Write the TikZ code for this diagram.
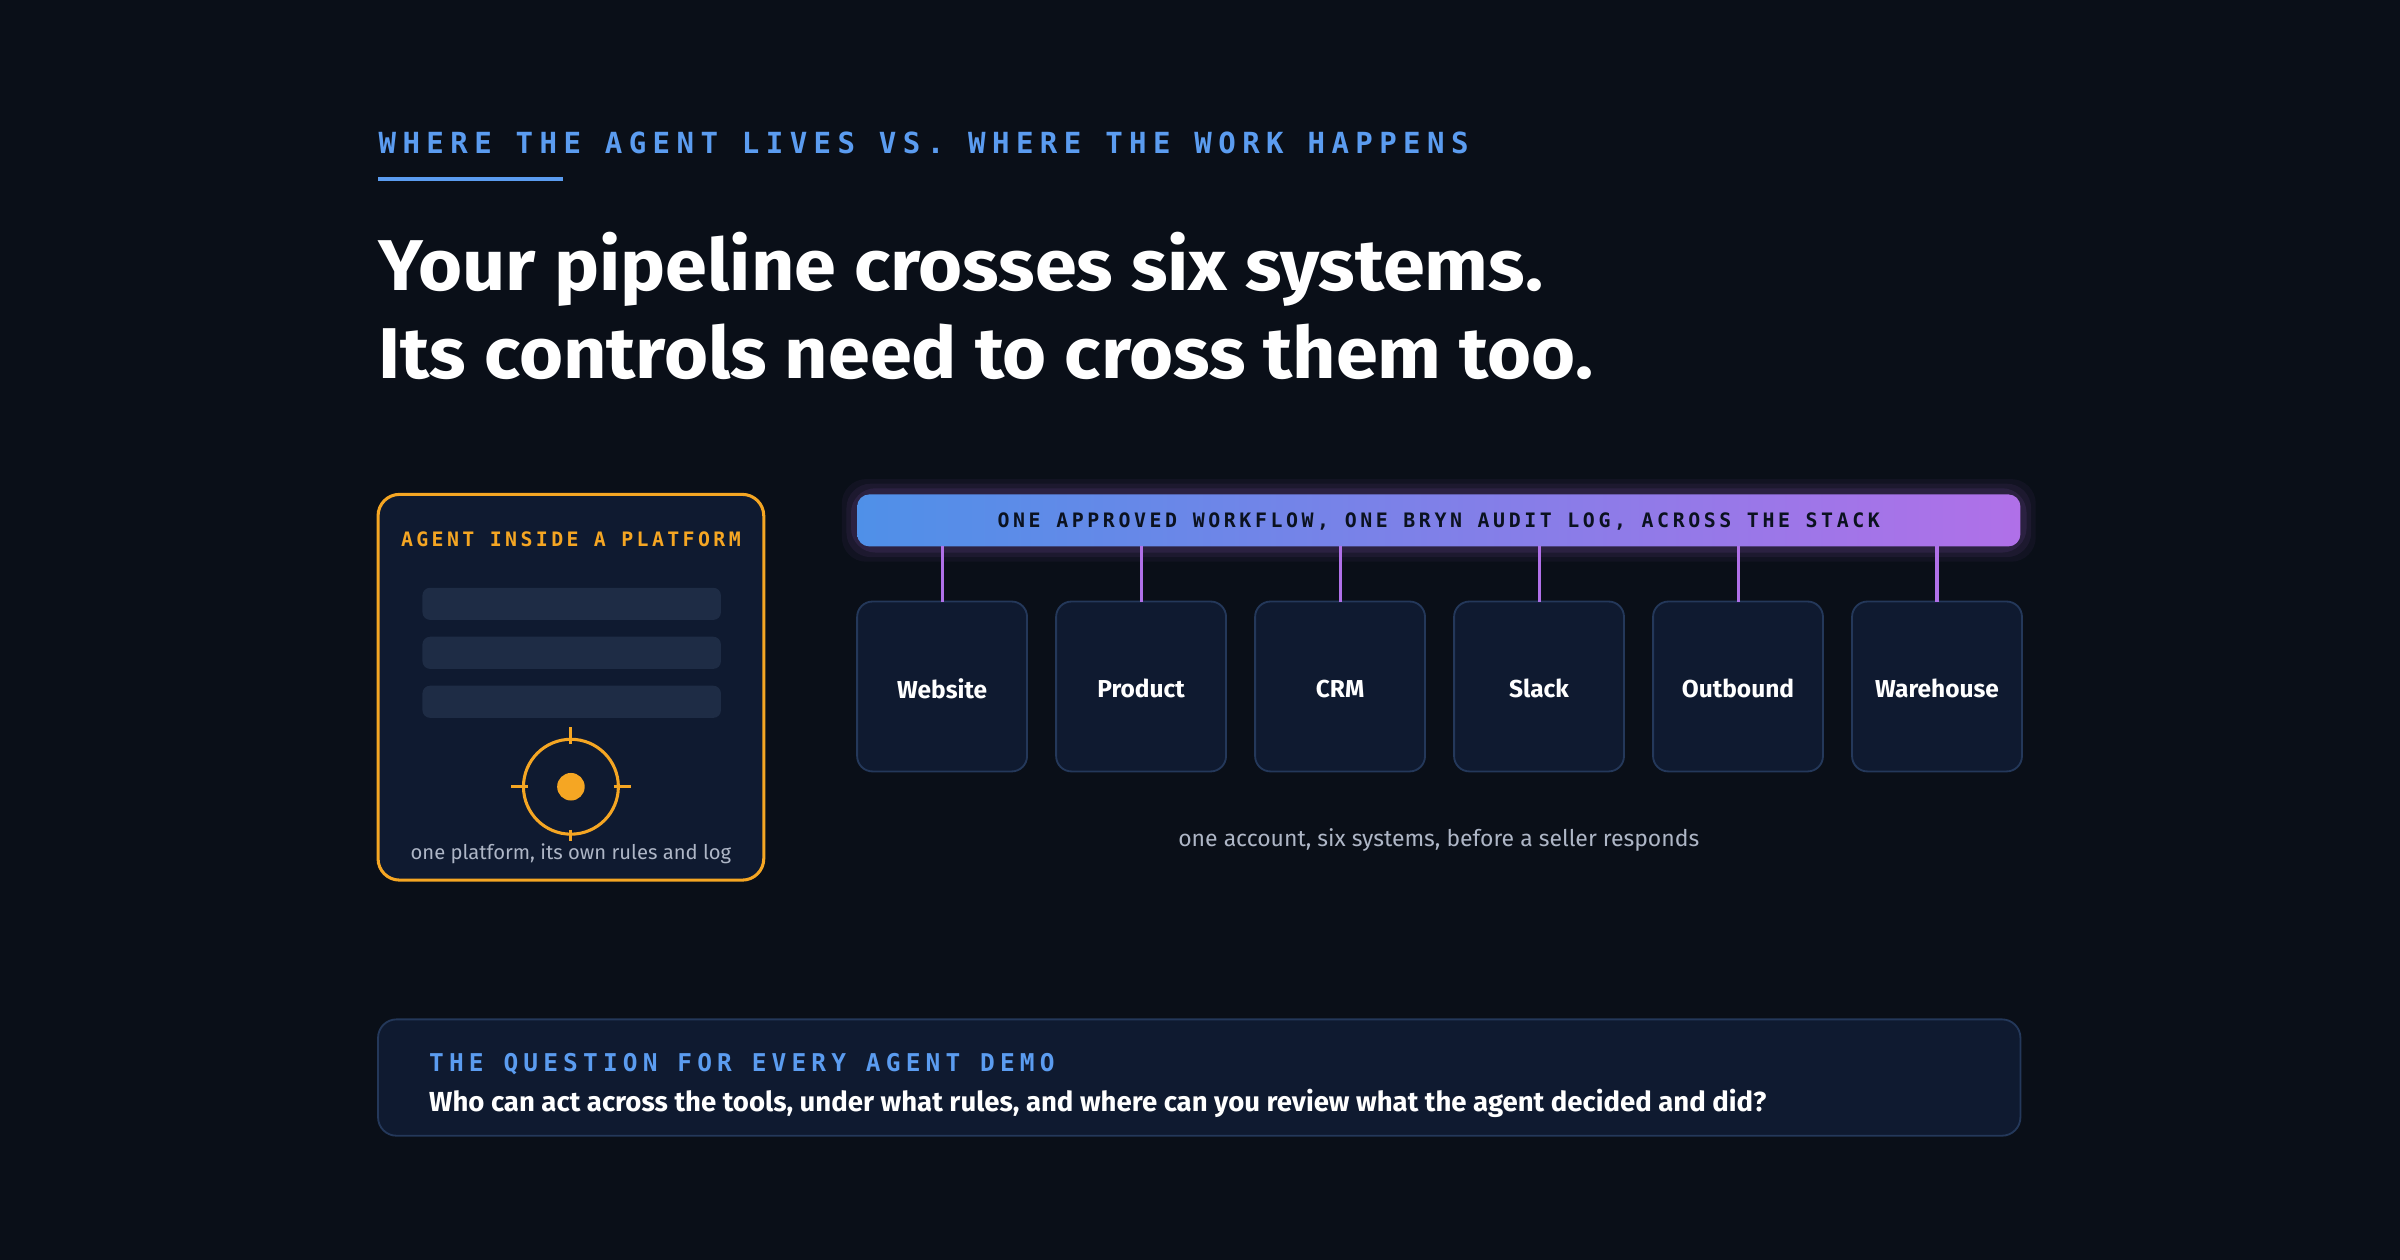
\documentclass[tikz,border=0pt]{standalone}
\usepackage{fontspec}
\setmainfont{Fira Sans}
\newfontfamily\monof{DejaVu Sans Mono}
\newfontfamily\titlef{Fira Sans}
\usetikzlibrary{fadings,shadings}
\definecolor{bg}{HTML}{0A0F18}
\definecolor{accblue}{HTML}{5B9CF0}
\definecolor{orng}{HTML}{F5A623}
\definecolor{card}{HTML}{0F1A30}
\definecolor{cardline}{HTML}{24385A}
\definecolor{barfill}{HTML}{1E2C45}
\definecolor{gblue}{HTML}{4F90E8}
\definecolor{gpurp}{HTML}{B070E8}
\definecolor{capgray}{HTML}{AEB6C6}
\definecolor{darktxt}{HTML}{0B1220}
\tikzset{
 sys/.style={draw=cardline,fill=card,rounded corners=5pt,line width=0.6pt},
 sysl/.style={text=white,font=\bfseries\fontsize{8}{9}\selectfont},
 conn/.style={draw=gpurp,line width=1pt},
 pbar/.style={fill=barfill,rounded corners=2.5pt,draw=none},
 capt/.style={text=capgray,font=\fontsize{7}{8}\selectfont},
 ttl/.style={anchor=base west,inner sep=0,text=white,font=\titlef\bfseries\fontsize{23.5}{28}\selectfont,xscale=1.05,transform shape},
}
\begin{document}
\begin{tikzpicture}[x=0.5pt,y=-0.5pt]
\fill[bg] (0,0) rectangle (1568,823);
\useasboundingbox (0,0) rectangle (1568,823);
% heading
\node[anchor=base west,inner sep=0,text=accblue,font=\monof\bfseries\fontsize{9.5}{10}\selectfont\addfontfeature{LetterSpace=22}] (h) at (247,100) {WHERE THE AGENT LIVES VS. WHERE THE WORK HAPPENS};
\draw[accblue,line width=1.5pt] (247,117) -- (368,117);
\node[ttl] (t1) at (247,190) {Your pipeline crosses six systems.};
\node[ttl] (t2) at (247,247) {Its controls need to cross them too.};
% left card
\draw[orng,fill=card,line width=1pt,rounded corners=7pt] (247,323) rectangle (499,575);
\node[text=orng,font=\monof\bfseries\fontsize{6.5}{7}\selectfont\addfontfeature{LetterSpace=17}] (al) at (373,352) {AGENT INSIDE A PLATFORM};
\fill[pbar] (276,384) rectangle (471,405);
\fill[pbar] (276,416) rectangle (471,437);
\fill[pbar] (276,448) rectangle (471,469);
\draw[orng,line width=1pt] (373,514) circle (31);
\fill[orng] (373,514) circle (9);
\draw[orng,line width=1pt] (373,475)--(373,486) (373,542)--(373,553) (334,514)--(345,514) (401,514)--(412,514);
\node[capt,font=\fontsize{6.6}{8}\selectfont,fill=card,inner sep=1pt] (lc) at (373,558) {one platform, its own rules and log};
% glow bar
\foreach \i/\o in {10/0.05,7/0.07,4/0.1}{
 \fill[gpurp,opacity=\o,rounded corners=8pt] (560-\i,323-\i) rectangle (1320+\i,357+\i);}
\shade[left color=gblue,right color=gpurp,rounded corners=4pt] (560,323) rectangle (1320,357);
\node[text=darktxt,font=\monof\bfseries\fontsize{6.5}{7}\selectfont\addfontfeature{LetterSpace=18}] (bar) at (940,341) {ONE APPROVED WORKFLOW, ONE BRYN AUDIT LOG, ACROSS THE STACK};
\foreach \x/\n/\t in {560/a/Website,690/b/Product,820/c/CRM,950/d/Slack,1080/e/Outbound,1210/f/Warehouse}{
 \draw[sys] (\x,393) rectangle (\x+111,504);
 \node[sysl] (s\n) at (\x+55.5,450) {\t};
 \coordinate (top\n) at (\x+55.5,393);
 \coordinate (bt\n) at (\x+55.5,357);
 \draw[conn] (bt\n) -- (top\n);
}
\node[capt,font=\fontsize{7.5}{8}\selectfont] (cap) at (940,549) {one account, six systems, before a seller responds};
% bottom card
\draw[sys,rounded corners=6pt] (247,666) rectangle (1320,742);
\node[anchor=base west,inner sep=0,text=accblue,font=\monof\bfseries\fontsize{8}{9}\selectfont\addfontfeature{LetterSpace=21}] (q1) at (280,700) {THE QUESTION FOR EVERY AGENT DEMO};
\node[anchor=base west,inner sep=0,text=white,font=\bfseries\fontsize{9}{10}\selectfont] (q2) at (280,726) {Who can act across the tools, under what rules, and where can you review what the agent decided and did?};
\end{tikzpicture}
\end{document}
